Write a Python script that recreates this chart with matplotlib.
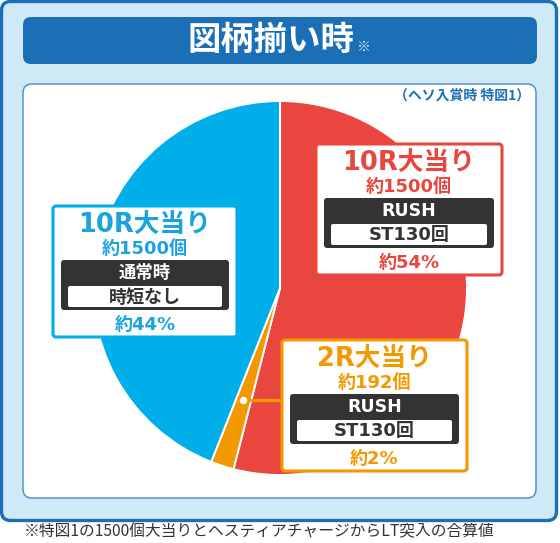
import matplotlib
matplotlib.use("Agg")
import matplotlib.pyplot as plt
from matplotlib.patches import FancyBboxPatch

plt.rcParams['font.family'] = ['Noto Sans CJK JP', 'DejaVu Sans']
WIDE = ['DejaVu Sans', 'Noto Sans CJK JP']  # wide latin digits, CJK from Noto

# chart data
TITLE = "図柄揃い時"
SUBTITLE = "（ヘソ入賞時 特図1）"
FOOTNOTE = "※特図1の1500個大当りとヘスティアチャージからLT突入の合算値"
LABELS = ["10R大当り", "2R大当り", "10R大当り"]
SHARES = [54, 2, 44]
PAYOUTS = ["約1500個", "約192個", "約1500個"]
MODES = ["RUSH", "RUSH", "通常時"]
DETAILS = ["ST130回", "ST130回", "時短なし"]
COLORS = ["#e8463e", "#f39800", "#00aeea"]
TEXT_COLORS = ["#e8463e", "#f39800", "#1aa3df"]

W, H = 560, 543
NAVY = "#1a6fb6"


def rbox(ax, x, y, w, h, r, fc, ec="none", lw=0, z=3):
    p = FancyBboxPatch((x, y), w, h, boxstyle=f"round,pad=0,rounding_size={r}",
                       fc=fc, ec=ec, lw=lw, zorder=z)
    ax.add_patch(p)
    return p


def card(ax, x, y, w, i):
    # box with label text, payout, mode strip and share
    c = TEXT_COLORS[i]
    cx = x + w / 2
    rbox(ax, x, y, w, 131, 3, "white", COLORS[i], 2.2, z=4)
    ax.text(cx, y + 20, LABELS[i], color=c, fontsize=18.5, fontweight="bold",
            family=WIDE, ha="center", va="center", zorder=5)
    ax.text(cx, y + 43, PAYOUTS[i], color=c, fontsize=13, fontweight="bold",
            family=WIDE, ha="center", va="center", zorder=5)
    rbox(ax, x + 8, y + 54, w - 16, 50, 3, "#333333", z=5)
    ax.text(cx, y + 67, MODES[i], color="white", fontsize=12.5, fontweight="bold",
            family=WIDE, ha="center", va="center", zorder=6)
    rbox(ax, x + 15, y + 80, w - 30, 21, 2, "white", z=6)
    ax.text(cx, y + 91.5, DETAILS[i], color="#333333", fontsize=13, fontweight="bold",
            family=WIDE, ha="center", va="center", zorder=7)
    ax.text(cx, y + 119, f"約{SHARES[i]}%", color=c, fontsize=13, fontweight="bold",
            family=WIDE, ha="center", va="center", zorder=5)


fig = plt.figure(figsize=(W / 100, H / 100), dpi=100)
ax = fig.add_axes([0, 0, 1, 1])

# background panels
rbox(ax, 1.5, 1.5, 555, 519, 9, "#cfe9f7", NAVY, 2.4, z=0)
rbox(ax, 23, 17, 514, 47, 8, NAVY, z=1)
rbox(ax, 23, 84, 513, 414, 9, "white", "#4a87c8", 1.0, z=1)

ax.text(271, 40, TITLE, color="white", fontsize=24, fontweight="bold",
        ha="center", va="center", zorder=2)
ax.text(364, 47, "※", color="white", fontsize=10, fontweight="bold",
        ha="center", va="center", zorder=2)
ax.text(530, 96, SUBTITLE, color=NAVY, fontsize=10, fontweight="bold",
        ha="right", va="center", zorder=2)
ax.text(24, 532, FOOTNOTE, color="#333333", fontsize=11.3,
        ha="left", va="center", zorder=2)

# pie (y axis points down, so counterclock in data is clockwise on screen)
cx, cy, r = 280, 288, 187
ax.pie(SHARES, colors=COLORS, startangle=270, counterclock=True,
       center=(cx, cy), radius=r,
       wedgeprops=dict(edgecolor="white", linewidth=1.4, zorder=2))

# annotation cards
card(ax, 316, 144, 186, 0)
card(ax, 53, 206, 184, 2)
card(ax, 282, 340, 185, 1)

# connector from orange wedge to its card
ax.plot([243, 282], [400, 400], color=COLORS[1], lw=2.4, zorder=3)
ax.scatter([243], [400], s=55, fc="white", ec=COLORS[1], lw=2, zorder=4)

ax.set_xlim(0, W)
ax.set_ylim(H, 0)
ax.set_aspect("auto")
ax.axis("off")

fig.savefig("out.png", dpi=100)
